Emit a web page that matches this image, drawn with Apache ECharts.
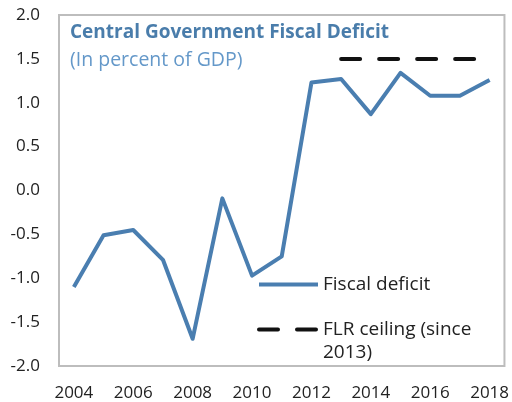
<!DOCTYPE html>
<html>
<head>
<meta charset="utf-8">
<script src="https://cdn.jsdelivr.net/npm/echarts@6/dist/echarts.min.js"></script>
<style>
html,body{margin:0;padding:0;background:#fff;}
#chart{width:512px;height:402px;}
</style>
</head>
<body>
<div id="chart"></div>
<script>
var years = ['2004','2005','2006','2007','2008','2009','2010','2011','2012','2013','2014','2015','2016','2017','2018'];
var fiscalDeficit = [-1.10, -0.51, -0.45, -0.79, -1.69, -0.09, -0.97, -0.75, 1.23, 1.27, 0.87, 1.34, 1.08, 1.08, 1.26];
var flrCeiling = [null, null, null, null, null, null, null, null, null, 1.5, 1.5, 1.5, 1.5, 1.5, 1.5];
var yTicks = [-2.0, -1.5, -1.0, -0.5, 0.0, 0.5, 1.0, 1.5, 2.0];
var seriesNames = ['Fiscal deficit', 'FLR ceiling (since 2013)'];
var titleText = 'Central Government Fiscal Deficit';
var subtitleText = '(In percent of GDP)';

var FONT = "'Open Sans', 'Noto Sans', sans-serif";
var BLUE = '#4a7eb0';

var chart = echarts.init(document.getElementById('chart'), null, {renderer: 'canvas'});
chart.setOption({
  animation: false,
  backgroundColor: '#fff',
  textStyle: {fontFamily: FONT},
  title: {
    text: titleText,
    subtext: subtitleText,
    left: 65,
    top: 18,
    itemGap: 7,
    textStyle: {fontFamily: FONT, fontSize: 19, fontWeight: 'bold', color: '#4a7dab', lineHeight: 20},
    subtextStyle: {fontFamily: FONT, fontSize: 19.5, color: '#6498c9', lineHeight: 20}
  },
  grid: {
    left: 59, right: 6, top: 15, bottom: 35,
    show: true, borderColor: '#bdbdbd', borderWidth: 2, backgroundColor: 'transparent'
  },
  legend: [{
    data: [seriesNames[0]],
    orient: 'vertical',
    left: 257, top: 273, padding: 0,
    itemWidth: 59, itemHeight: 14,
    itemStyle: {opacity: 0, borderWidth: 0},
    lineStyle: {width: 4},
    textStyle: {fontFamily: FONT, fontSize: 19, color: '#222', lineHeight: 23}
  }, {
    data: [seriesNames[1]],
    orient: 'vertical',
    left: 257, top: 295, padding: 0,
    itemWidth: 59, itemHeight: 14,
    itemStyle: {opacity: 0, borderWidth: 0},
    lineStyle: {width: 4},
    formatter: function () { return ' \nFLR ceiling (since\n2013)'; },
    textStyle: {fontFamily: FONT, fontSize: 19, color: '#222', lineHeight: 23}
  }],
  xAxis: {
    type: 'category',
    data: years,
    boundaryGap: true,
    axisLine: {show: false},
    axisTick: {show: false},
    splitLine: {show: false},
    axisLabel: {interval: 1, margin: 19, fontFamily: FONT, fontSize: 17, color: '#222'}
  },
  yAxis: {
    type: 'value',
    min: yTicks[0], max: yTicks[yTicks.length - 1], interval: 0.5,
    axisLine: {show: false},
    axisTick: {show: false},
    splitLine: {show: false},
    axisLabel: {margin: 19, fontFamily: FONT, fontSize: 17, color: '#222',
      formatter: function (v) { return v.toFixed(1); }}
  },
  series: [{
    name: seriesNames[0],
    type: 'line',
    data: fiscalDeficit,
    symbol: 'none',
    lineStyle: {color: BLUE, width: 4, join: 'round'},
    itemStyle: {color: BLUE},
    z: 3
  }, {
    name: seriesNames[1],
    type: 'line',
    data: flrCeiling,
    symbol: 'none',
    lineStyle: {color: '#111', width: 4, type: [19, 19], cap: 'round'},
    itemStyle: {color: '#111'},
    z: 2
  }]
});
</script>
</body>
</html>
